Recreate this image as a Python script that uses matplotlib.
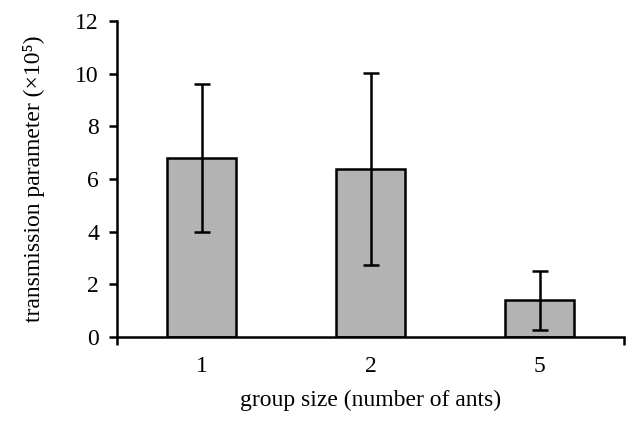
import matplotlib
matplotlib.use("Agg")
import matplotlib.pyplot as plt

# group sizes, mean transmission parameter (x10^5) and error
groups = ['1', '2', '5']
means = [6.8, 6.38, 1.4]
errors = [2.8, 3.63, 1.12]

plt.rcParams['font.family'] = ['Liberation Serif', 'DejaVu Serif']

fig = plt.figure(figsize=(6.26, 4.22), dpi=100)
ax = fig.add_axes([0.187, 0.2014, 0.81, 0.7486])

x = range(len(groups))
ax.bar(x, means, width=0.41, color='#b3b3b3', edgecolor='black', linewidth=1.8, zorder=2)
ax.errorbar(x, means, yerr=errors, fmt='none', ecolor='black', elinewidth=1.8,
            capsize=5.8, capthick=1.8, zorder=3)

ax.set_xlim(-0.5, 2.5)
ax.set_ylim(0, 12)
ax.set_yticks(range(0, 13, 2))
ax.set_xticks(list(x))
ax.set_xticklabels(groups)
ax.set_xticks([-0.5, 2.5], minor=True)

for s in ['top', 'right']:
    ax.spines[s].set_visible(False)
for s in ['left', 'bottom']:
    ax.spines[s].set_linewidth(1.8)

ax.tick_params(axis='y', direction='out', length=6, width=1.8, labelsize=17, pad=7)
ax.tick_params(axis='x', which='major', length=0, labelsize=17, pad=14)
ax.tick_params(axis='x', which='minor', direction='out', length=6, width=1.8)

ax.set_xlabel('group size (number of ants)', fontsize=17, labelpad=9)
ax.set_ylabel('transmission parameter (×10⁵)', fontsize=17, labelpad=22)

plt.savefig('out.png', dpi=100)
